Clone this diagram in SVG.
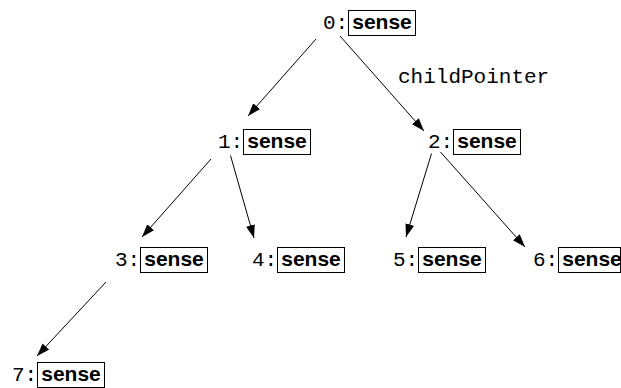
<svg xmlns="http://www.w3.org/2000/svg" width="621" height="388" viewBox="0 0 621 388">
<style>
.num{font-family:"Liberation Mono","Courier New",monospace;font-size:21px;fill:#000}
.lbl{font-family:"Liberation Sans",Arial,sans-serif;font-size:21px;font-weight:bold;fill:#000}
.box{fill:none;stroke:#000;stroke-width:1}
.edge{stroke:#000;stroke-width:1;fill:none;marker-end:url(#ah)}
</style>
<defs>
<marker id="ah" markerUnits="userSpaceOnUse" markerWidth="14" markerHeight="10" refX="13" refY="4.5" orient="auto">
<path d="M0,0 L13,4.5 L0,9 Z" fill="#000"/>
</marker>
</defs>
<g id="connectors">
<line class="edge" x1="316" y1="39" x2="248" y2="116"/>
<line class="edge" x1="340" y1="36" x2="424" y2="131"/>
<line class="edge" x1="211" y1="159" x2="142" y2="237"/>
<line class="edge" x1="230.5" y1="155.5" x2="254" y2="238"/>
<line class="edge" x1="431.5" y1="153.5" x2="406" y2="237"/>
<line class="edge" x1="440.5" y1="152" x2="525" y2="247"/>
<line class="edge" x1="106" y1="282" x2="37" y2="356"/>
<text class="num" x="398" y="83">childPointer</text>
</g>
<g id="node0"><text class="num" x="323" y="29">0:</text><rect class="box" x="348.5" y="10.5" width="67" height="25"/><text class="lbl" x="382" y="29" text-anchor="middle">sense</text></g>
<g id="node1"><text class="num" x="218" y="148">1:</text><rect class="box" x="243.5" y="129.5" width="67" height="25"/><text class="lbl" x="277" y="148" text-anchor="middle">sense</text></g>
<g id="node2"><text class="num" x="428" y="148">2:</text><rect class="box" x="453.5" y="129.5" width="67" height="25"/><text class="lbl" x="487" y="148" text-anchor="middle">sense</text></g>
<g id="node3"><text class="num" x="115" y="266">3:</text><rect class="box" x="140.5" y="247.5" width="67" height="25"/><text class="lbl" x="174" y="266" text-anchor="middle">sense</text></g>
<g id="node4"><text class="num" x="252" y="266">4:</text><rect class="box" x="277.5" y="247.5" width="67" height="25"/><text class="lbl" x="311" y="266" text-anchor="middle">sense</text></g>
<g id="node5"><text class="num" x="393" y="266">5:</text><rect class="box" x="418.5" y="247.5" width="67" height="25"/><text class="lbl" x="452" y="266" text-anchor="middle">sense</text></g>
<g id="node6"><text class="num" x="533" y="266">6:</text><rect class="box" x="558.5" y="247.5" width="62" height="25"/><text class="lbl" x="592" y="266" text-anchor="middle">sense</text></g>
<g id="node7"><text class="num" x="12" y="381">7:</text><rect class="box" x="37.5" y="362.5" width="67" height="25"/><text class="lbl" x="71" y="381" text-anchor="middle">sense</text></g>
</svg>
